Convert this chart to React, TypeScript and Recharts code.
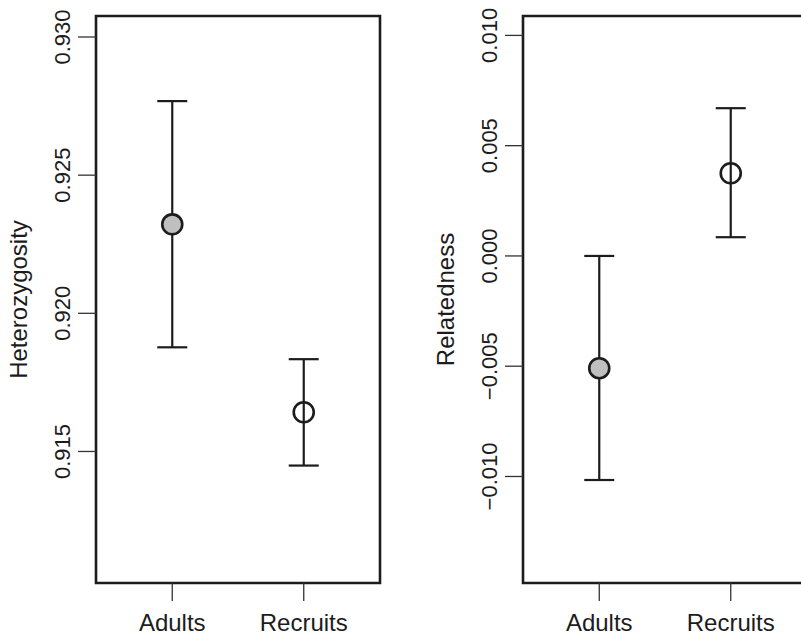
import React from 'react';
import { ScatterChart, Scatter, XAxis, YAxis, ErrorBar, ReferenceArea } from 'recharts';

const categories = ['Adults', 'Recruits'];
const categoryPositions = [1, 2];

const hetMean = [0.92322, 0.91642];
const hetLow = [0.91877, 0.91449];
const hetHigh = [0.92768, 0.91834];
const hetTicks = [0.915, 0.92, 0.925, 0.93];
const hetDomain = [0.91024, 0.93076];

const relMean = [-0.00509, 0.00375];
const relLow = [-0.01016, 0.00085];
const relHigh = [0.0, 0.0067];
const relTicks = [-0.01, -0.005, 0, 0.005, 0.01];
const relDomain = [-0.01483, 0.01088];

const xDomain = [0.42, 2.58];

const INK = '#1c1c1c';
const FONT = '"Liberation Sans", Arial, Helvetica, sans-serif';

function buildRows(mean: number[], low: number[], high: number[]) {
  return categories.map((name, i) => ({
    x: categoryPositions[i],
    name,
    mean: mean[i],
    err: [mean[i] - low[i], high[i] - mean[i]],
  }));
}

const hetRows = buildRows(hetMean, hetLow, hetHigh);
const relRows = buildRows(relMean, relLow, relHigh);

const YTick = (props: any) => {
  const { x, y, payload } = props;
  return (
    <text
      x={x}
      y={y}
      transform={`rotate(-90, ${x}, ${y})`}
      textAnchor="middle"
      fontSize={22}
      fontFamily={FONT}
      fill={INK}
    >
      {payload.value.toFixed(3).replace('-', '\u2212')}
    </text>
  );
};

const XTick = (props: any) => {
  const { x, y, payload } = props;
  const idx = categoryPositions.indexOf(payload.value);
  return (
    <text x={x} y={y + 18} textAnchor="middle" fontSize={24} fontFamily={FONT} fill={INK}>
      {idx >= 0 ? categories[idx] : ''}
    </text>
  );
};

const makeTitle = (title: string) => (props: any) => {
  const vb = props.viewBox || {};
  const x = (vb.x || 0) + 27;
  const y = (vb.y || 0) + (vb.height || 0) / 2;
  return (
    <text
      x={x}
      y={y}
      transform={`rotate(-90, ${x}, ${y})`}
      textAnchor="middle"
      fontSize={24}
      fontFamily={FONT}
      fill={INK}
    >
      {title}
    </text>
  );
};

const Dot = (props: any) => {
  const { cx, cy, payload } = props;
  const filled = payload && payload.name === 'Adults';
  return (
    <circle cx={cx} cy={cy} r={10} fill={filled ? '#bfbfbf' : 'none'} stroke={INK} strokeWidth={2.6} />
  );
};

const Empty = () => <g />;

function Panel(props: { rows: any[]; ticks: number[]; domain: number[]; title: string; left: number }) {
  const { rows, ticks, domain, title, left } = props;
  return (
    <div style={{ position: 'absolute', left, top: 0 }}>
      <ScatterChart width={400} height={636} margin={{ top: 16, right: 20, bottom: 0, left: 0 }}>
        <XAxis
          type="number"
          dataKey="x"
          domain={xDomain}
          ticks={categoryPositions}
          axisLine={false}
          tickSize={18}
          tickMargin={12}
          tickLine={{ stroke: '#333', strokeWidth: 1.3 }}
          tick={<XTick />}
          height={53}
          allowDataOverflow
        />
        <YAxis
          type="number"
          dataKey="mean"
          domain={domain}
          ticks={ticks}
          axisLine={false}
          tickSize={18}
          tickMargin={8}
          tickLine={{ stroke: '#333', strokeWidth: 1.3 }}
          tick={<YTick />}
          width={96}
          allowDataOverflow
          label={{ content: makeTitle(title) }}
        />
        <ReferenceArea
          x1={xDomain[0]}
          x2={xDomain[1]}
          y1={domain[0]}
          y2={domain[1]}
          fill="none"
          stroke={INK}
          strokeWidth={2.6}
          ifOverflow="visible"
        />
        <Scatter data={rows} shape={<Empty />} isAnimationActive={false}>
          <ErrorBar dataKey="err" direction="y" width={15} stroke={INK} strokeWidth={2.2} isAnimationActive={false} />
        </Scatter>
        <Scatter data={rows} shape={<Dot />} isAnimationActive={false} />
      </ScatterChart>
    </div>
  );
}

export default function App() {
  return (
    <div
      style={{
        position: 'fixed',
        left: 0,
        top: 0,
        width: 801,
        height: 636,
        overflow: 'hidden',
        background: '#ffffff',
      }}
    >
      <Panel rows={hetRows} ticks={hetTicks} domain={hetDomain} title="Heterozygosity" left={0} />
      <Panel rows={relRows} ticks={relTicks} domain={relDomain} title="Relatedness" left={427} />
    </div>
  );
}
